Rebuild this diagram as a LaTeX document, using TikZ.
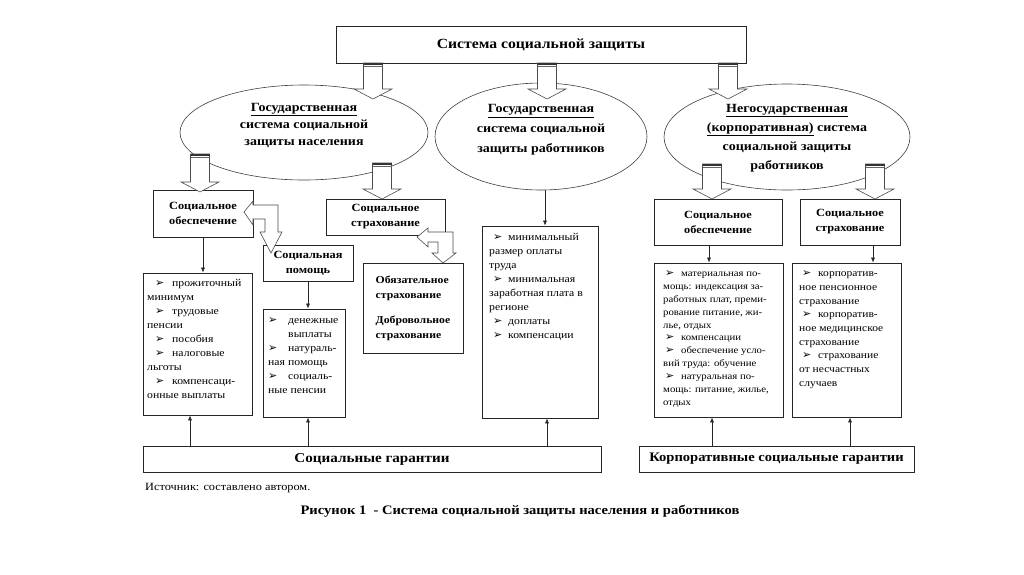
\documentclass[tikz,border=0pt]{standalone}
\usepackage{fontspec}
\setmainfont{Liberation Serif}
\newfontfamily\wfont[FakeStretch=1.12]{Liberation Serif}
\newfontfamily\bulfont{DejaVu Sans}
\usetikzlibrary{shapes.geometric,arrows.meta}
\newcommand\bl[2]{\hspace*{#1}\makebox[#2][l]{\bulfont\fontsize{11}{11}\selectfont ➢}}
\newcommand\hollowdown[3]{%
  \filldraw[harrow] (#1-9.5,#2) -- (#1-9.5,#3-10) -- (#1-19,#3-10) -- (#1,#3) -- (#1+19,#3-10) -- (#1+9.5,#3-10) -- (#1+9.5,#2) -- cycle;
  \fill[black!80] (#1-9.5,#2) rectangle (#1+9.5,#2+2.2);
  \draw[black!60, line width=0.5pt] (#1-9.5,#2+3.6) -- (#1+9.5,#2+3.6);
}
\begin{document}
\begin{tikzpicture}[x=1pt,y=-1pt,
  box/.style={draw=black!85, line width=0.7pt, inner sep=0pt},
  ell/.style={draw=black!75, line width=0.6pt, ellipse, inner sep=0pt},
  etext/.style={align=center, inner sep=0pt, font=\wfont\bfseries\fontsize{12.5}{17}\selectfont},
  hfont/.style={align=center, font=\wfont\bfseries\fontsize{11}{15}\selectfont},
  ltext/.style={align=left, inner sep=0pt, anchor=north west},
  harrow/.style={draw=black!70, fill=white, line width=0.6pt, line join=miter},
  arr/.style={draw=black!85, line width=0.6pt, -{Latex[length=5pt,width=4pt]}}]
\fill[white] (0,0) rectangle (1024,574);
\useasboundingbox (0,0) rectangle (1024,574);

% top box
\node[box, minimum width=410pt, minimum height=37pt, font=\wfont\bfseries\fontsize{14}{16}\selectfont] (top) at (541,44.5) {Система социальной защиты};

% ellipses
\node[ell, minimum width=248pt, minimum height=95pt] (E1) at (304,132.5) {};
\node[ell, minimum width=212pt, minimum height=107pt] (E2) at (541,136.5) {};
\node[ell, minimum width=246pt, minimum height=106pt] (E3) at (787,137) {};
\node[etext] (E1t) at (304,125.5) {\underline{Государственная}\\система социальной\\защиты населения};
\node[etext, font=\wfont\bfseries\fontsize{12.5}{20}\selectfont] (E2t) at (541,130) {\underline{Государственная}\\система социальной\\защиты работников};
\node[etext, font=\wfont\bfseries\fontsize{12.5}{19}\selectfont] (E3t) at (787,138) {\underline{Негосударственная}\\\underline{(корпоративная)} система\\социальной защиты\\работников};

% heading boxes
\node[box, hfont, minimum width=100pt, minimum height=47pt] (SO) at (203,213.5) {Социальное\\обеспечение};
\node[box, hfont, minimum width=119pt, minimum height=36pt] (SS) at (385.5,217) {Социальное\\страхование};
\node[box, hfont, minimum width=90pt, minimum height=36pt] (SP) at (308,263) {Социальная\\помощь};
\node[box, hfont, align=left, font=\wfont\bfseries\fontsize{10.5}{15}\selectfont, minimum width=100pt, minimum height=90pt] (OS) at (413,308) {Обязательное\\страхование\\[10pt]Добровольное\\страхование};
\node[box, hfont, minimum width=128pt, minimum height=46pt] (CO) at (718,222) {Социальное\\обеспечение};
\node[box, hfont, minimum width=100pt, minimum height=46pt] (CS) at (850,222) {Социальное\\страхование};

% list boxes
\node[box, minimum width=109pt, minimum height=142pt] (L1) at (197.5,344) {};
\node[box, minimum width=82pt, minimum height=108pt] (L2) at (304,363) {};
\node[box, minimum width=116pt, minimum height=192pt] (M) at (540,322) {};
\node[box, minimum width=129pt, minimum height=154pt] (R1) at (718.5,340) {};
\node[box, minimum width=109pt, minimum height=154pt] (R2) at (846.5,340) {};

\node[ltext, font=\wfont\fontsize{10.5}{14}\selectfont] (L1t) at (147,276.6) {\strut\bl{8pt}{17pt}прожиточный\\минимум\\\bl{8pt}{17pt}трудовые\\пенсии\\\bl{8pt}{17pt}пособия\\\bl{8pt}{17pt}налоговые\\льготы\\\bl{8pt}{17pt}компенсаци-\\онные выплаты};
\node[ltext, font=\wfont\fontsize{10.5}{14}\selectfont] (L2t) at (268,313.5) {\strut\bl{0pt}{20pt}денежные\\\hspace*{20pt}выплаты\\\bl{0pt}{20pt}натураль-\\ная помощь\\\bl{0pt}{20pt}социаль-\\ные пенсии};
\node[ltext, font=\wfont\fontsize{10.5}{14}\selectfont] (Mt) at (489,230.6) {\strut\bl{4pt}{15pt}минимальный\\размер оплаты\\труда\\\bl{4pt}{15pt}минимальная\\заработная плата в\\регионе\\\bl{4pt}{15pt}доплаты\\\bl{4pt}{15pt}компенсации};
\node[ltext, font=\wfont\fontsize{9.6}{12.9}\selectfont] (R1t) at (663,267.2) {\strut\bl{2pt}{16pt}материальная по-\\мощь: индексация за-\\работных плат, преми-\\рование питание, жи-\\лье, отдых\\\bl{2pt}{16pt}компенсации\\\bl{2pt}{16pt}обеспечение усло-\\вий труда: обучение\\\bl{2pt}{16pt}натуральная по-\\мощь: питание, жилье,\\отдых};
\node[ltext, font=\wfont\fontsize{10.3}{13.7}\selectfont] (R2t) at (799,266.8) {\strut\bl{3pt}{16pt}корпоратив-\\ное пенсионное\\страхование\\\bl{3pt}{16pt}корпоратив-\\ное медицинское\\страхование\\\bl{3pt}{16pt}страхование\\от несчастных\\случаев};

% bottom boxes
\node[box, minimum width=458pt, minimum height=26pt, font=\wfont\bfseries\fontsize{13.5}{15}\selectfont] (B1) at (372,459) {Социальные гарантии};
\node[box, minimum width=275pt, minimum height=26pt, font=\wfont\bfseries\fontsize{13}{15}\selectfont] (B2) at (776.5,459) {Корпоративные социальные гарантии};

% captions
\node[anchor=west, inner sep=0pt, font=\wfont\fontsize{11}{13}\selectfont] (src) at (145,488) {Источник: составлено автором.};
\node[inner sep=0pt, font=\wfont\bfseries\fontsize{13}{15}\selectfont] (cap) at (520,511) {Рисунок 1~~- Система социальной защиты населения и работников};

% thin arrows
\draw[arr] (SO.south) -- (SO.south |- L1.north);
\draw[arr] (SP.south) -- (SP.south |- L2.north);
\draw[arr] (E2.south -| 545,0) -- (M.north -| 545,0);
\draw[arr] (CO.south -| 709,0) -- (R1.north -| 709,0);
\draw[arr] (CS.south -| 873,0) -- (R2.north -| 873,0);
\draw[arr] (B1.north -| 190,0) -- (L1.south -| 190,0);
\draw[arr] (B1.north -| 308,0) -- (L2.south -| 308,0);
\draw[arr] (B1.north -| 547,0) -- (M.south -| 547,0);
\draw[arr] (B2.north -| 712,0) -- (R1.south -| 712,0);
\draw[arr] (B2.north -| 850,0) -- (R2.south -| 850,0);

% hollow arrows
\hollowdown{373}{63}{99}
\hollowdown{547}{63}{99}
\hollowdown{728}{63}{99}
\hollowdown{200}{154}{192}
\hollowdown{382}{163}{199}
\hollowdown{712}{164}{199}
\hollowdown{875}{164}{199}

% bent double hollow arrows
\filldraw[harrow] (244,212) -- (253,201) -- (253,205) -- (278,205) -- (278,232) -- (282,232) -- (271,253) -- (260,232) -- (265,232) -- (265,219) -- (253,219) -- (253,225) -- cycle;
\filldraw[harrow] (417,237) -- (428,228) -- (428,232) -- (453,232) -- (453,253) -- (456,253) -- (443,263) -- (432,253) -- (438,253) -- (438,242) -- (428,242) -- (428,247) -- cycle;
\end{tikzpicture}
\end{document}
